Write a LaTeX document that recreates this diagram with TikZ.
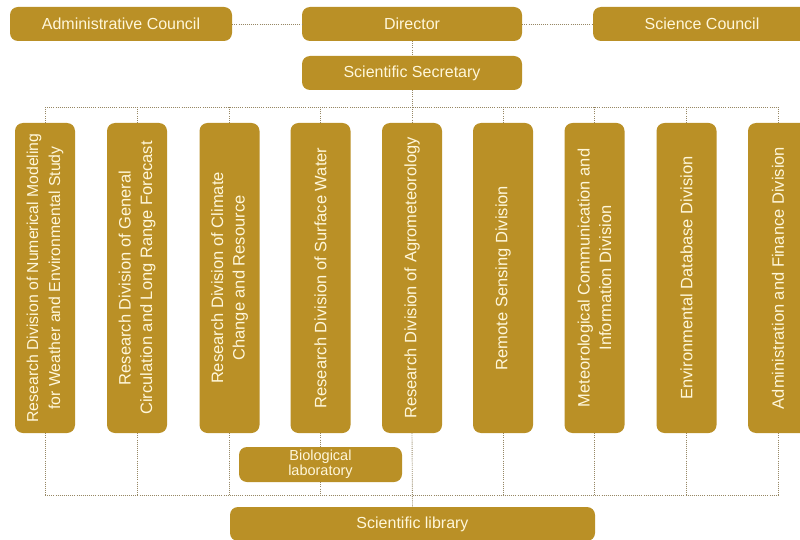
\documentclass[tikz,border=0pt]{standalone}
\usepackage{fontspec}
\setmainfont{Liberation Sans}
\definecolor{gold}{RGB}{186,144,38}
\definecolor{cream}{RGB}{255,247,218}
\definecolor{dotc}{RGB}{150,135,100}
\begin{document}
\begin{tikzpicture}[x=1pt,y=-1pt,
  hbox/.style={draw=none,fill=gold,rounded corners=8pt,minimum height=34pt,text=cream,inner sep=0pt,font=\fontsize{16}{17}\selectfont},
  vbox/.style={draw=none,fill=gold,rounded corners=8pt,minimum width=60pt,minimum height=310pt,inner sep=0pt},
  vtext/.style={rotate=90,text=cream,align=center,inner sep=0pt,font=\fontsize{16.5}{21.5}\selectfont},
  conn/.style={draw=dotc,line width=0.9pt,dash pattern=on 0.9pt off 1.2pt}]
\useasboundingbox (0,0) rectangle (800,540);
\clip (0,0) rectangle (800,540);
\fill[white] (0,0) rectangle (800,540);
% top row
\node[hbox,minimum width=222pt] (admin) at (121,24) {Administrative Council};
\node[hbox,minimum width=220pt] (director) at (412,24) {Director};
\node[hbox,minimum width=218pt] (science) at (702,24) {Science Council};
\node[hbox,minimum width=220pt] (secretary) at (412,73) {Scientific Secretary};
% divisions
\node[vbox] (d1) at (45,278) {};
\node[vbox] (d2) at (137,278) {};
\node[vbox] (d3) at (229.5,278) {};
\node[vbox] (d4) at (320.5,278) {};
\node[vbox] (d5) at (412,278) {};
\node[vbox] (d6) at (503,278) {};
\node[vbox] (d7) at (594.5,278) {};
\node[vbox] (d8) at (686.5,278) {};
\node[vbox] (d9) at (778,278) {};
\node[vtext,font=\fontsize{15.8}{22}\selectfont] (t1) at (d1) {Research Division of Numerical Modeling\\for Weather and Environmental Study};
\node[vtext] (t2) at (d2) {Research Division of General\\Circulation and Long Range Forecast};
\node[vtext] (t3) at (d3) {Research Division of Climate\\Change and Resource};
\node[vtext] (t4) at (d4) {Research Division of Surface Water};
\node[vtext] (t5) at (d5) {Research Division of Agrometeorology};
\node[vtext] (t6) at (d6) {Remote Sensing Division};
\node[vtext] (t7) at (d7) {Meteorological Communication and\\Information Division};
\node[vtext] (t8) at (d8) {Environmental Database Division};
\node[vtext] (t9) at (d9) {Administration and Finance Division};
% bottom
\node[hbox,minimum width=163pt,minimum height=35pt,align=center,font=\fontsize{14.5}{15}\selectfont] (bio) at (320.5,464.5) {Biological\\laboratory};
\node[hbox,minimum width=365pt] (library) at (412.5,524) {Scientific library};
% buses
\coordinate (tl) at (45,107);
\coordinate (tr) at (778,107);
\coordinate (bl) at (45,495);
\coordinate (br) at (778,495);
% connectors
\draw[conn] (admin.east) -- (director.west);
\draw[conn] (director.east) -- (science.west);
\draw[conn] (director.south) -- (secretary.north);
\draw[conn] (secretary.south) -- (d5.north);
\draw[conn] (tl) -- (tr);
\foreach \n in {d1,d2,d3,d4,d6,d7,d8,d9} {
  \draw[conn] (\n.north) -- (\n.north |- tl);
}
\draw[conn] (bl) -- (br);
\foreach \n in {d1,d2,d3,d6,d7,d8,d9} {
  \draw[conn] (\n.south) -- (\n.south |- bl);
}
\draw[conn] (d4.south) -- (bio.north);
\draw[conn] (bio.south) -- (bio.south |- bl);
\draw[conn] (d5.south) -- (library.north);
\end{tikzpicture}
\end{document}
